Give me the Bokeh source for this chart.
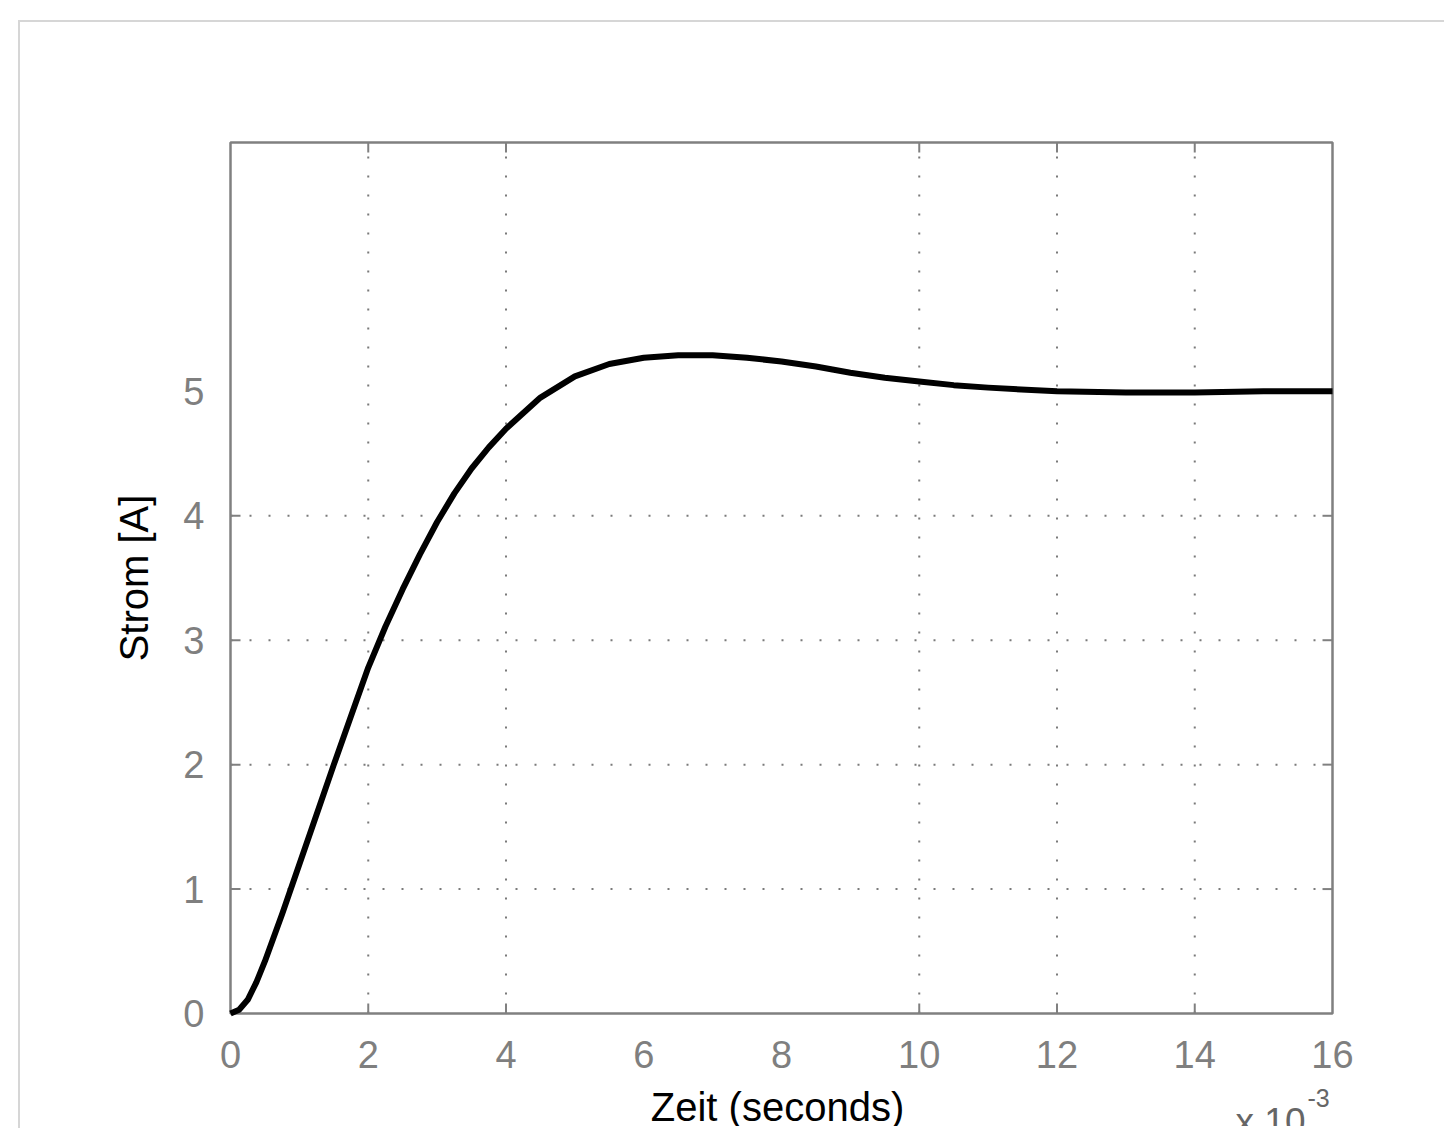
import math
from bokeh.plotting import figure
from bokeh.models import Range1d, Label
from bokeh.core.properties import value
from bokeh.embed import file_html
from bokeh.resources import INLINE

# time in units of 1e-3 s, current in A
t_ms = [0, 0.125, 0.25, 0.375, 0.5, 0.75, 1.0, 1.25, 1.5, 1.75, 2.0, 2.25, 2.5, 2.75,
        3.0, 3.25, 3.5, 3.75, 4.0, 4.5, 5.0, 5.5, 6.0, 6.5, 7.0, 7.5, 8.0, 8.5, 9.0,
        9.5, 10.0, 10.5, 11.0, 12.0, 13.0, 14.0, 15.0, 16.0]
current = [0, 0.03, 0.11, 0.25, 0.42, 0.8, 1.2, 1.6, 2.0, 2.39, 2.78, 3.11, 3.41, 3.69,
           3.95, 4.18, 4.38, 4.55, 4.70, 4.95, 5.12, 5.22, 5.27, 5.29, 5.29, 5.27, 5.24, 5.2, 5.15,
           5.11, 5.08, 5.05, 5.03, 5.0, 4.99, 4.99, 5.0, 5.0]

x_label_ticks = [0, 2, 4, 6, 8, 10, 12, 14, 16]
y_label_ticks = [0, 1, 2, 3, 4, 5]
x_grid_ticks = [2, 4, 10, 12, 14]
y_grid_ticks = [1, 2, 3, 4]
x_title = "Zeit (seconds)"
y_title = "Strom [A]"
x_exp_base = "x 10"
x_exp_power = "-3"

# axes box (data limits)
X0, X1 = 0, 16
Y0, Y1 = 0, 7

FONT = "Liberation Sans"
TICK_COL = "#7f7f7f"
FRAME_COL = "#808080"
GRID_COL = "#7a7a7a"

# box size in pixels and the room around it (all inside one drawing area)
BOX_W, BOX_H = 1102, 871
PAD_L, PAD_R, PAD_T, PAD_B = 210, 98, 120, 113
PX_X = BOX_W / (X1 - X0)
PX_Y = BOX_H / (Y1 - Y0)

def dx(px):
    return px / PX_X

def dy(px):
    return px / PX_Y

p = figure(
    output_backend="svg", toolbar_location=None,
    frame_width=PAD_L + BOX_W + PAD_R, frame_height=PAD_T + BOX_H + PAD_B,
    x_range=Range1d(X0 - dx(PAD_L), X1 + dx(PAD_R)),
    y_range=Range1d(Y0 - dy(PAD_B), Y1 + dy(PAD_T)),
    x_axis_location=None, y_axis_location=None,
    min_border=0, min_border_left=0, min_border_right=0,
    min_border_top=0, min_border_bottom=0,
)
p.grid.visible = False
p.outline_line_color = None
p.background_fill_color = "white"
p.border_fill_color = "white"

# dotted grid lines
nx, ny = len(x_grid_ticks), len(y_grid_ticks)
p.segment(x0=x_grid_ticks, y0=[Y0] * nx, x1=x_grid_ticks, y1=[Y1] * nx,
          line_color=GRID_COL, line_width=2, line_dash="2 17")
p.segment(x0=[X0] * ny, y0=y_grid_ticks, x1=[X1] * ny, y1=y_grid_ticks,
          line_color=GRID_COL, line_width=2, line_dash="2 17")

# axes box
p.quad(left=[X0], right=[X1], bottom=[Y0], top=[Y1], fill_color=None,
       line_color=FRAME_COL, line_width=2.5)

# inner tick marks on all four sides
TICK = 10
p.segment(x0=x_grid_ticks, y0=[Y0] * nx, x1=x_grid_ticks, y1=[Y0 + dy(TICK)] * nx,
          line_color=FRAME_COL, line_width=2)
p.segment(x0=x_grid_ticks, y0=[Y1 - dy(TICK)] * nx, x1=x_grid_ticks, y1=[Y1] * nx,
          line_color=FRAME_COL, line_width=2)
p.segment(x0=[X0] * ny, y0=y_grid_ticks, x1=[X0 + dx(TICK)] * ny, y1=y_grid_ticks,
          line_color=FRAME_COL, line_width=2)
p.segment(x0=[X1 - dx(TICK)] * ny, y0=y_grid_ticks, x1=[X1] * ny, y1=y_grid_ticks,
          line_color=FRAME_COL, line_width=2)

# the current curve
p.line(t_ms, current, line_color="black", line_width=6, line_join="round")

# tick labels
p.text(x=x_label_ticks, y=[Y0 - dy(41)] * len(x_label_ticks),
       text=[str(t) for t in x_label_ticks], text_align="center", text_baseline="alphabetic",
       text_font=value(FONT), text_font_size="38px", text_color=TICK_COL)
p.text(x=[X0 - dx(26)] * len(y_label_ticks), y=y_label_ticks,
       text=[str(v) for v in y_label_ticks], text_align="right", text_baseline="middle",
       text_font=value(FONT), text_font_size="38px", text_color=TICK_COL)

# axis titles
p.text(x=[X0 - dx(97)], y=[(Y0 + Y1) / 2], text=[y_title], angle=math.pi / 2,
       text_align="center", text_baseline="middle",
       text_font=value(FONT), text_font_size="40px", text_color="black")
p.add_layout(Label(x=X0 + dx(547), y=Y0 - dy(93), text=x_title, text_align="center",
                   text_baseline="alphabetic", text_font=FONT, text_font_size="40px",
                   text_color="black"))

# exponent "x 10^-3"
p.add_layout(Label(x=X0 + dx(1075), y=Y0 - dy(108), text=x_exp_base, text_align="right",
                   text_baseline="alphabetic", text_font=FONT, text_font_size="37px",
                   text_color="#666666"))
p.add_layout(Label(x=X0 + dx(1077), y=Y0 - dy(84), text=x_exp_power, text_align="left",
                   text_baseline="alphabetic", text_font=FONT, text_font_size="25px",
                   text_color="#666666"))

page_css = """
{% block postamble %}
<style>
html { overflow: hidden !important; margin: 0 !important; padding: 0 !important; }
body { margin: 20px 0 0 18px !important; padding: 0 !important;
       border-top: 2px solid #d6d6d6; border-left: 2px solid #d6d6d6;
       height: calc(100vh - 20px) !important; box-sizing: border-box !important;
       overflow: hidden !important; }
</style>
{% endblock %}
"""

open("out.html", "w").write(file_html(p, INLINE, template=page_css))
